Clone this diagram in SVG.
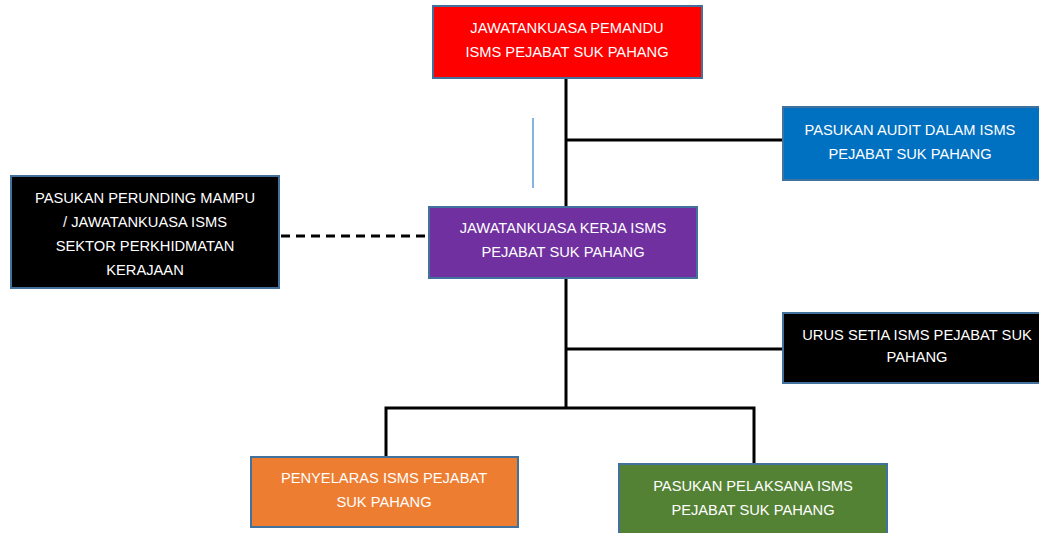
<svg xmlns="http://www.w3.org/2000/svg" width="1039" height="533" viewBox="0 0 1039 533">
<style>
.box{stroke:#41719C;stroke-width:2}
.t{font-family:"Liberation Sans",Arial,sans-serif;font-size:14.7px;fill:#fff;text-anchor:middle}
.c{stroke:#000;stroke-width:3;fill:none}
</style>
<rect width="1039" height="533" fill="#fff"/>
<g id="connectors">
<line class="c" x1="566" y1="79" x2="566" y2="207"/>
<line class="c" x1="566" y1="140" x2="783" y2="140"/>
<line x1="533" y1="118" x2="533" y2="188" stroke="#5B9BD5" stroke-width="1.5"/>
<line class="c" x1="281" y1="236" x2="429" y2="236" stroke-dasharray="9,6" stroke-width="2"/>
<line class="c" x1="566" y1="278" x2="566" y2="409"/>
<line class="c" x1="566" y1="349" x2="783" y2="349"/>
<polyline class="c" points="386,457 386,408 754,408 754,464"/>
</g>
<g id="n_pemandu">
<rect class="box" x="433" y="6" width="269" height="72" fill="#FF0000"/>
<text class="t" x="567" y="33">JAWATANKUASA PEMANDU</text>
<text class="t" x="567" y="57">ISMS PEJABAT SUK PAHANG</text>
</g>
<g id="n_audit">
<rect class="box" x="783" y="107" width="258" height="73" fill="#0070C0"/>
<text class="t" x="910" y="135">PASUKAN AUDIT DALAM ISMS</text>
<text class="t" x="910" y="159">PEJABAT SUK PAHANG</text>
</g>
<g id="n_perunding">
<rect class="box" x="11" y="176" width="268" height="112" fill="#000"/>
<text class="t" x="145" y="203">PASUKAN PERUNDING MAMPU</text>
<text class="t" x="145" y="227">/ JAWATANKUASA ISMS</text>
<text class="t" x="145" y="251">SEKTOR PERKHIDMATAN</text>
<text class="t" x="145" y="275">KERAJAAN</text>
</g>
<g id="n_kerja">
<rect class="box" x="429" y="207" width="268" height="71" fill="#7030A0"/>
<text class="t" x="563" y="233">JAWATANKUASA KERJA ISMS</text>
<text class="t" x="563" y="257">PEJABAT SUK PAHANG</text>
</g>
<g id="n_urus">
<rect class="box" x="783" y="313" width="258" height="70" fill="#000"/>
<text class="t" x="917" y="340">URUS SETIA ISMS PEJABAT SUK</text>
<text class="t" x="917" y="362">PAHANG</text>
</g>
<g id="n_penyelaras">
<rect class="box" x="251" y="457" width="267" height="70" fill="#ED7D31"/>
<text class="t" x="384" y="483">PENYELARAS ISMS PEJABAT</text>
<text class="t" x="384" y="507">SUK PAHANG</text>
</g>
<g id="n_pelaksana">
<rect class="box" x="619" y="464" width="268" height="72" fill="#548235"/>
<text class="t" x="753" y="491">PASUKAN PELAKSANA ISMS</text>
<text class="t" x="753" y="515">PEJABAT SUK PAHANG</text>
</g>
</svg>
